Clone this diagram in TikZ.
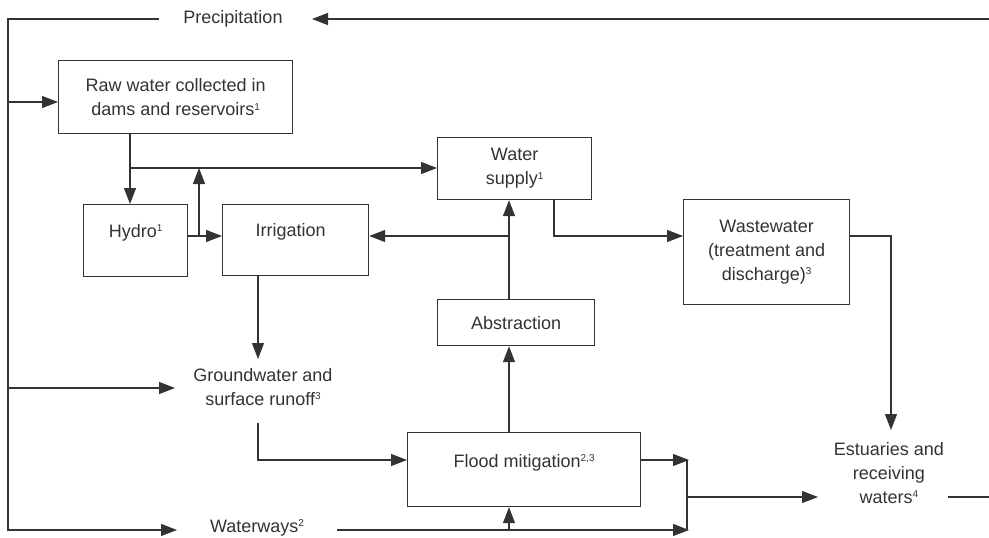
\documentclass[tikz,border=0pt]{standalone}
\usepackage{fontspec}
\setmainfont{Liberation Sans}
\usetikzlibrary{arrows.meta}
\definecolor{ink}{HTML}{333333}
\newcommand\sups[1]{\raisebox{5.5pt}{\fontsize{10}{10}\selectfont #1}}
\begin{document}
\begin{tikzpicture}[x=1pt,y=-1pt,
  box/.style={draw=ink, line width=1.2pt, rectangle, inner sep=0pt, anchor=north west, align=center, text=ink, font=\fontsize{18}{24}\selectfont},
  lbl/.style={text=ink, align=center, inner sep=0pt, font=\fontsize{18}{24}\selectfont},
  flow/.style={draw=ink, line width=1.2pt, -{Triangle[length=16pt,width=12pt]}},
  plain/.style={draw=ink, line width=1.2pt}]
\useasboundingbox (0,0) rectangle (989,538);
% boxes
\node[box, minimum width=234pt, minimum height=73pt] (raw) at (58,60) {Raw water collected in\\dams and reservoirs\sups{1}};
\node[box, minimum width=104pt, text height=32.5pt, text depth=39.5pt] (hydro) at (83,204) {Hydro\sups{1}};
\node[box, minimum width=146pt, text height=31.5pt, text depth=39.5pt] (irr) at (222,204) {Irrigation\hspace*{10pt}};
\node[box, minimum width=154pt, minimum height=62pt] (ws) at (437,137) {Water\\supply\sups{1}};
\node[box, minimum width=157pt, minimum height=46pt] (abs) at (437,299) {Abstraction};
\node[box, minimum width=166pt, minimum height=105pt] (ww) at (683,199) {Wastewater\\(treatment and\\discharge)\sups{3}};
\node[box, minimum width=233pt, text height=34.5pt, text depth=39.5pt] (flood) at (407,432) {Flood mitigation\sups{2,3}};
% free labels
\node[lbl] (prec) at (233,19) {Precipitation};
\node[lbl] (gw) at (263,387) {Groundwater and\\surface runoff\sups{3}};
\node[lbl] (wwy) at (257,528) {Waterways\sups{2}};
\node[lbl] (est) at (889,473) {Estuaries and\\receiving\\waters\sups{4}};
% coordinates
\coordinate (tr) at (989,19);
\coordinate (precR) at (312,19);
\coordinate (precL) at (159,19);
\coordinate (tl) at (8,19);
\coordinate (bl) at (8,530);
\coordinate (wwyL) at (177,530);
\coordinate (lraw) at (8,102);
\coordinate (lgw) at (8,388);
\coordinate (gwL) at (175,388);
\coordinate (j1) at (130,168);
\coordinate (j2) at (199,236);
\coordinate (j3) at (258,359);
\coordinate (gwB) at (258,423);
\coordinate (j4) at (258,460);
\coordinate (j5) at (509,236);
\coordinate (j6) at (554,236);
\coordinate (j7) at (891,236);
\coordinate (estT) at (891,430);
\coordinate (j8) at (689,460);
\coordinate (v1) at (687,460);
\coordinate (v2) at (687,530);
\coordinate (vm) at (687,497);
\coordinate (estL) at (818,497);
\coordinate (estR) at (948,497);
\coordinate (rr) at (989,497);
\coordinate (wwyR) at (337,530);
\coordinate (wwyE) at (689,530);
\coordinate (wu) at (509,530);
% connectors
\draw[flow] (tr) -- (precR);
\draw[flow] (precL) -- (tl) -- (bl) -- (wwyL);
\draw[flow] (lraw) -- (lraw -| raw.west);
\draw[flow] (lgw) -- (gwL);
\draw[flow] (j1 |- raw.south) -- (j1 |- hydro.north);
\draw[flow] (j1) -- (j1 -| ws.west);
\draw[flow] (j2 -| hydro.east) -- (j2 -| irr.west);
\draw[flow] (j2) -- (j2 |- j1);
\draw[flow] (j3 |- irr.south) -- (j3);
\draw[flow] (gwB) -- (j4) -- (j4 -| flood.west);
\draw[flow] (j5 |- flood.north) -- (j5 |- abs.south);
\draw[flow] (j5 |- abs.north) -- (j5 |- ws.south);
\draw[flow] (j5) -- (j5 -| irr.east);
\draw[flow] (j6 |- ws.south) -- (j6) -- (j6 -| ww.west);
\draw[flow] (j7 -| ww.east) -- (j7) -- (estT);
\draw[flow] (j8 -| flood.east) -- (j8);
\draw[plain] (v1) -- (v2);
\draw[flow] (wwyR) -- (wwyE);
\draw[flow] (wu) -- (wu |- flood.south);
\draw[flow] (vm) -- (estL);
\draw[plain] (estR) -- (rr);
\end{tikzpicture}
\end{document}
